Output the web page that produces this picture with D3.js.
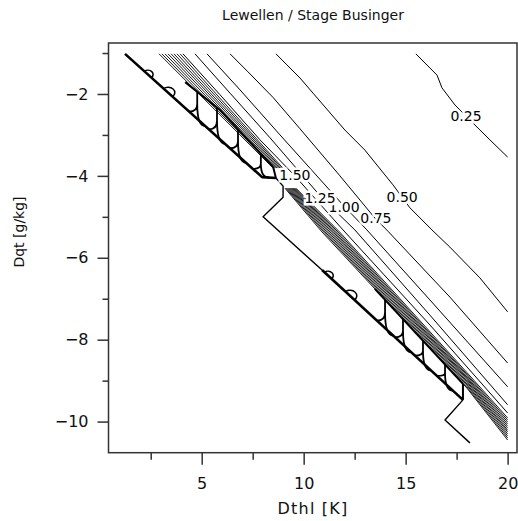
<!DOCTYPE html>
<html>
<head>
<meta charset="utf-8">
<script src="https://cdn.jsdelivr.net/npm/d3@7/dist/d3.min.js"></script>
<style>
  body { margin: 0; background: #fff; }
  svg { display: block; font-family: "DejaVu Sans", sans-serif; }
</style>
</head>
<body>
<svg id="chart" width="518" height="521"></svg>
<script>
// axis ticks
const xTicks = [5, 10, 15, 20];
const xMinor = [2.5, 7.5, 12.5, 17.5];
const yTicks = [-2, -4, -6, -8, -10];
const yMinor = [-1, -3, -5, -7, -9];

// labelled contours, [Dthl, Dqt]
const levels = ['0.25', '0.50', '0.75', '1.00', '1.25', '1.50'];
const c025 = [[15.50,-1.02],[16.54,-1.54],[16.78,-1.85],[17.42,-2.27],[18.30,-2.71],[19.13,-3.12],[20.0,-3.54]];
const c050 = [[8.64,-1.02],[9.18,-1.29],[9.82,-1.61],[10.46,-1.98],[12.02,-2.88],[13.0,-3.37],[14.38,-4.22],
              [15.21,-4.78],[16.29,-5.32],[17.17,-5.74],[18.64,-6.49],[20.0,-7.32]];
const c075 = [[6.39,-1.02],[7.27,-1.46],[8.49,-2.08],[9.82,-2.85],[11.78,-4.00],[13.49,-5.03],[14.13,-5.35],
              [17.17,-6.96],[20.0,-8.57]];
const c100 = [[5.26,-1.02],[6.88,-1.90],[8.84,-3.00],[12.02,-4.76],[13.10,-5.32],[16.19,-7.03],[20.0,-9.15]];
const c125 = [[4.67,-1.02],[6.39,-1.98],[8.35,-3.07],[10.90,-4.54],[12.51,-5.32],[16.19,-7.40],[20.0,-9.59]];
const c150 = [[4.08,-1.02],[5.90,-2.02],[7.86,-3.12],[9.57,-4.00],[11.93,-5.32],[16.19,-7.64],[20.0,-9.79]];
const contourLines = [c025, c050, c075, c100, c125, c150];
const labelAt = [[17.96,-2.54],[14.83,-4.51],[13.54,-5.03],[11.98,-4.76],[10.80,-4.54],[9.57,-3.98]];

// packed levels above 1.50, upper block (Dthl < 9)
const denseA = [
  [[2.91,-1.02],[8.50,-3.81]],
  [[3.05,-1.02],[8.56,-3.81]],
  [[3.20,-1.02],[8.63,-3.81]],
  [[3.35,-1.02],[8.70,-3.81]],
  [[3.50,-1.02],[8.77,-3.81]],
  [[3.64,-1.02],[8.84,-3.81]],
  [[3.79,-1.02],[8.91,-3.81]],
  [[3.94,-1.02],[8.98,-3.81]]
];
// packed levels above 1.50, lower block (Dthl > 9)
const denseB = [
  [[9.08,-4.30],[10.90,-5.37],[18.0,-9.18],[20.0,-10.45]],
  [[9.13,-4.30],[10.98,-5.37],[18.0,-9.15],[20.0,-10.40]],
  [[9.18,-4.30],[11.05,-5.37],[18.0,-9.11],[20.0,-10.35]],
  [[9.23,-4.30],[11.13,-5.37],[18.0,-9.08],[20.0,-10.30]],
  [[9.28,-4.30],[11.21,-5.37],[18.0,-9.04],[20.0,-10.25]],
  [[9.33,-4.30],[11.29,-5.37],[18.0,-9.01],[20.0,-10.21]],
  [[9.38,-4.30],[11.37,-5.37],[18.0,-8.97],[20.0,-10.16]],
  [[9.43,-4.30],[11.45,-5.37],[18.0,-8.94],[20.0,-10.11]],
  [[9.48,-4.30],[11.52,-5.37],[18.0,-8.91],[20.0,-10.06]],
  [[9.52,-4.30],[11.60,-5.37],[18.0,-8.87],[20.0,-10.01]],
  [[9.57,-4.30],[11.68,-5.37],[18.0,-8.84],[20.0,-9.96]],
  [[9.62,-4.30],[11.76,-5.37],[18.0,-8.80],[20.0,-9.91]]
];

// edge of the computed region
const edgeA = [[1.24,-1.02],[7.96,-4.03],[8.64,-4.05]];
const stepA = [[8.64,-4.05],[8.99,-4.25],[8.99,-4.52],[8.01,-5.00],[10.90,-6.30]];
const edgeB = [[10.90,-6.30],[17.81,-9.47]];
const stepB = [[17.81,-9.47],[16.93,-9.96],[18.15,-10.52]];
const topA = [[4.19,-1.71],[5.90,-2.39],[8.50,-3.78]];
const topB = [[13.49,-6.76],[17.81,-9.08]];
const endA = [[8.50,-3.78],[8.64,-4.05]];
const endB = [[17.81,-9.08],[17.81,-9.47]];
const wallsA = [4.78, 5.75, 6.78, 7.90];
const wallsB = [13.99, 14.87, 15.85, 16.93];
const bubblesA = [2.36, 3.35];
const bubblesB = [11.19, 12.27];

const x = d3.scaleLinear().domain([0.43, 20.46]).range([108.5, 517]);
const y = d3.scaleLinear().domain([-0.755, -10.76]).range([43, 452.7]);
const line = d3.line().x(d => x(d[0])).y(d => y(d[1]));

const svg = d3.select('svg#chart');
const plot = svg.append('g');

const px = pts => pts.map(d => [x(d[0]), y(d[1])]);
const yAt = (pts, xv) => {
  for (let i = 1; i < pts.length; i++) {
    const a = pts[i - 1], b = pts[i];
    if (xv >= a[0] && xv <= b[0]) return a[1] + (xv - a[0]) / (b[0] - a[0]) * (b[1] - a[1]);
  }
  const a = xv < pts[0][0] ? pts[0] : pts[pts.length - 2];
  const b = xv < pts[0][0] ? pts[1] : pts[pts.length - 1];
  return a[1] + (xv - a[0]) / (b[0] - a[0]) * (b[1] - a[1]);
};

const thin = (sel, w) => sel.attr('fill', 'none').attr('stroke', '#000').attr('stroke-width', w)
  .attr('stroke-linejoin', 'round');

plot.selectAll('path.contour').data(contourLines)
  .enter().append('path')
    .attr('class', 'contour')
    .attr('d', line)
    .call(thin, 1);

plot.selectAll('path.dense').data([...denseA, ...denseB])
  .enter().append('path')
    .attr('class', 'dense')
    .attr('d', line)
    .call(thin, 0.9);

plot.selectAll('path.step').data([stepA, stepB])
  .enter().append('path')
    .attr('d', line)
    .call(thin, 1.4);

plot.selectAll('path.edge').data([edgeA, edgeB])
  .enter().append('path')
    .attr('d', line)
    .call(thin, 2.6);

plot.selectAll('path.top').data([topA, topB, endA, endB])
  .enter().append('path')
    .attr('d', line)
    .call(thin, 2);

// cell walls between top and edge lines
const cells = (top, bottom, walls) => {
  const t = px(top), b = px(bottom);
  walls.forEach(w => {
    const cx = x(w);
    const u = [cx, yAt(t, cx)], l = [cx, yAt(b, cx)];
    const j = [cx, u[1] + 0.45 * (l[1] - u[1])];
    const fl = [cx - 8, yAt(b, cx - 8)], fr = [cx + 8, yAt(b, cx + 8)];
    const p = d3.path();
    p.moveTo(u[0], u[1]); p.lineTo(j[0], j[1]);
    p.quadraticCurveTo(j[0], fl[1], fl[0], fl[1]);
    p.moveTo(j[0], j[1]);
    p.quadraticCurveTo(j[0], fr[1], fr[0], fr[1]);
    plot.append('path').attr('d', p.toString()).call(thin, 1.8);
  });
};
cells(topA, edgeA, wallsA);
cells(topB, edgeB, wallsB);

const bubbles = (bottom, list) => {
  const b = px(bottom);
  list.forEach((v, i) => {
    const cx = x(v), r = i ? 4.5 : 3.5;
    const a = [cx - r, yAt(b, cx - r)], e = [cx + r, yAt(b, cx + r)];
    plot.append('path').attr('d', `M${a}A${r},${r * 0.8} 0 0 1 ${e}`).call(thin, 1.5);
  });
};
bubbles(edgeA, bubblesA);
bubbles(edgeB, bubblesB);

plot.selectAll('text.lbl').data(levels)
  .enter().append('text')
    .attr('x', (d, i) => x(labelAt[i][0]))
    .attr('y', (d, i) => y(labelAt[i][1]))
    .attr('dy', '0.36em')
    .attr('text-anchor', 'middle')
    .attr('font-size', 14)
    .attr('fill', '#000')
    .attr('stroke', '#fff')
    .attr('stroke-width', 5)
    .attr('paint-order', 'stroke')
    .text(d => d);

// frame
svg.append('rect')
  .attr('x', x.range()[0]).attr('y', y.range()[0])
  .attr('width', x.range()[1] - x.range()[0])
  .attr('height', y.range()[1] - y.range()[0])
  .attr('fill', 'none').attr('stroke', '#333').attr('stroke-width', 1.5);

const styleAxis = g => {
  g.select('.domain').remove();
  g.selectAll('line').attr('stroke', '#333').attr('stroke-width', 1.5);
  g.selectAll('text').attr('font-family', '"DejaVu Sans", sans-serif').attr('font-size', 16).attr('fill', '#111');
};

svg.append('g')
  .attr('transform', `translate(0,${y.range()[1]})`)
  .call(d3.axisBottom(x).tickValues(xTicks).tickSize(12).tickPadding(13).tickSizeOuter(0))
  .call(styleAxis);
svg.append('g')
  .attr('transform', `translate(0,${y.range()[1]})`)
  .call(d3.axisBottom(x).tickValues(xMinor).tickSize(7).tickFormat('').tickSizeOuter(0))
  .call(styleAxis);
svg.append('g')
  .attr('transform', `translate(${x.range()[0]},0)`)
  .call(d3.axisLeft(y).tickValues(yTicks).tickSize(11).tickPadding(9).tickSizeOuter(0))
  .call(styleAxis);
svg.append('g')
  .attr('transform', `translate(${x.range()[0]},0)`)
  .call(d3.axisLeft(y).tickValues(yMinor).tickSize(6).tickFormat('').tickSizeOuter(0))
  .call(styleAxis);

svg.append('text')
  .attr('x', 313).attr('y', 20)
  .attr('text-anchor', 'middle').attr('font-size', 14).attr('fill', '#111')
  .text('Lewellen / Stage Businger');

svg.append('text')
  .attr('x', 313).attr('y', 514)
  .attr('text-anchor', 'middle').attr('font-size', 16).attr('fill', '#111')
  .attr('letter-spacing', 1.2)
  .text('Dthl [K]');

svg.append('text')
  .attr('transform', 'translate(24,232) rotate(-90)')
  .attr('text-anchor', 'middle').attr('font-size', 14).attr('fill', '#111')
  .text('Dqt [g/kg]');
</script>
</body>
</html>
